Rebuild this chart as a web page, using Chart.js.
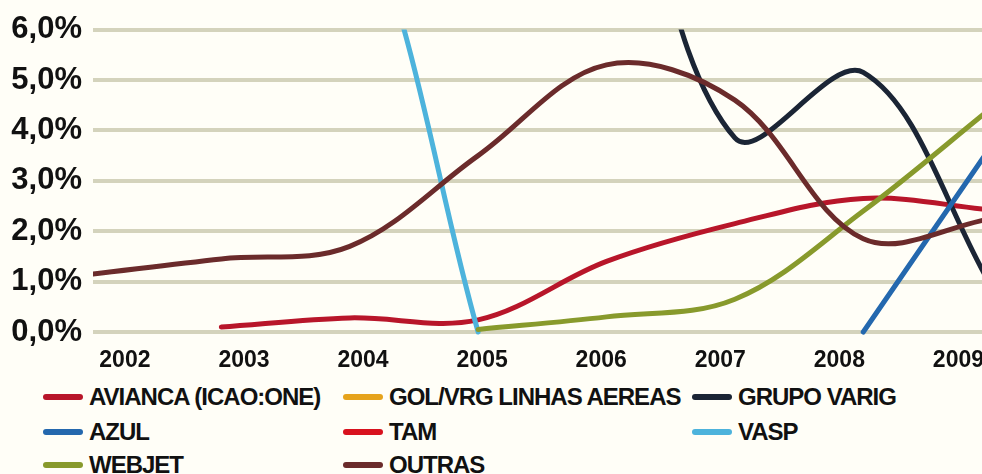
<!DOCTYPE html>
<html>
<head>
<meta charset="utf-8">
<script src="https://cdn.jsdelivr.net/npm/chart.js@4"></script>
<style>
  html, body { margin: 0; padding: 0; background: #fffef7; }
  #wrap { position: relative; width: 982px; height: 474px; overflow: hidden; }
  #chart { position: absolute; left: 0; top: 0; }
  .item { position: absolute; height: 30px; display: flex; align-items: center; }
  .swatch { width: 40px; height: 6px; border-radius: 3px; margin-right: 6px; }
  .label { font: bold 24px "Liberation Sans", Arial, sans-serif; letter-spacing: -1px; color: #111; white-space: nowrap; }
</style>
</head>
<body>
<div id="wrap">
  <canvas id="chart" width="982" height="380"></canvas>
  <div id="legend"></div>
</div>
<script>
// Data (market share, %)
const years = [2002, 2003, 2004, 2005, 2006, 2007, 2008, 2009];
const avianca = [null, 0.1, 0.28, 0.24, 1.4, 2.15, 2.65, 2.42];
const gol = [12, 22, 28, 33, 37, 40, 42, 41];
const varig = [32, 30, 25, 16, 11, 3.85, 5.15, 0.9];
const azul = [null, null, null, null, null, null, 0, 3.7];
const tam = [35, 33, 35, 43, 48, 48, 50, 45];
const vasp = [12, 11, 9, 0, null, null, null, null];
const webjet = [null, null, null, 0.05, 0.3, 0.65, 2.4, 4.45];
const outras = [1.15, 1.45, 1.7, 3.5, 5.3, 4.6, 1.85, 2.25];

const names = ['AVIANCA (ICAO:ONE)', 'GOL/VRG LINHAS AEREAS', 'GRUPO VARIG', 'AZUL', 'TAM', 'VASP', 'WEBJET', 'OUTRAS'];
const colors = ['#b8162a', '#e6a31c', '#1b2535', '#2468ae', '#d8121e', '#4db3dc', '#889a2c', '#6b2b2b'];
const values = [avianca, gol, varig, azul, tam, vasp, webjet, outras];

const fontFamily = '"Liberation Sans", Arial, sans-serif';

function fmtPct(v) {
    return v.toFixed(1).replace('.', ',') + '%';
}

const datasets = names.map((name, i) => ({
    label: name,
    data: years.map((yr, j) => ({ x: yr, y: values[i][j] })),
    borderColor: colors[i],
    borderWidth: 5,
    borderCapStyle: 'round',
    pointRadius: 0,
    tension: 0.35,
    fill: false,
    clip: { left: 0, top: 0, right: 0, bottom: 4 },
    order: names.length - i,
    xAxisID: 'x',
    yAxisID: 'y'
}));

new Chart(document.getElementById('chart').getContext('2d'), {
    type: 'line',
    data: { datasets: datasets },
    options: {
        responsive: false,
        animation: false,
        devicePixelRatio: 1,
        layout: { padding: { top: 28, left: 0, right: 0, bottom: 0 } },
        plugins: { legend: { display: false }, tooltip: { enabled: false } },
        scales: {
            x: { type: 'linear', display: false, min: 2002, max: 2008.925 },
            // year labels sit on their own axis, slightly narrower spacing than the data
            xl: {
                type: 'linear',
                position: 'bottom',
                min: 2001.732,
                max: 2009.198,
                grid: { display: false, drawTicks: false },
                border: { display: false },
                afterBuildTicks: axis => { axis.ticks = years.map(v => ({ value: v })); },
                ticks: {
                    autoSkip: false,
                    maxRotation: 0,
                    padding: 15,
                    color: '#111',
                    font: { family: fontFamily, size: 23, weight: 'bold' },
                    callback: v => String(v)
                },
                afterFit: s => { s.height = 48; s.paddingLeft = 0; s.paddingRight = 0; }
            },
            y: {
                min: 0,
                max: 6,
                grid: { color: '#d4d3bc', lineWidth: 4, drawTicks: false },
                border: { display: false },
                ticks: {
                    stepSize: 0.5,
                    padding: 11,
                    color: '#111',
                    font: { family: fontFamily, size: 31, weight: 'bold' },
                    callback: v => (Math.abs(v % 1) < 1e-9 ? fmtPct(v) : '')
                },
                afterFit: s => { s.width = 93; }
            }
        }
    }
});

// Legend laid out as 3 columns under the chart
const legendCols = [43, 343, 692];
const legendRows = [397, 432, 465];
const legend = document.getElementById('legend');
names.forEach((name, i) => {
    const item = document.createElement('div');
    item.className = 'item';
    item.style.left = legendCols[i % 3] + 'px';
    item.style.top = (legendRows[Math.floor(i / 3)] - 15) + 'px';
    item.innerHTML = '<div class="swatch" style="background:' + colors[i] + '"></div><span class="label"></span>';
    item.querySelector('.label').textContent = name;
    legend.appendChild(item);
});
</script>
</body>
</html>
